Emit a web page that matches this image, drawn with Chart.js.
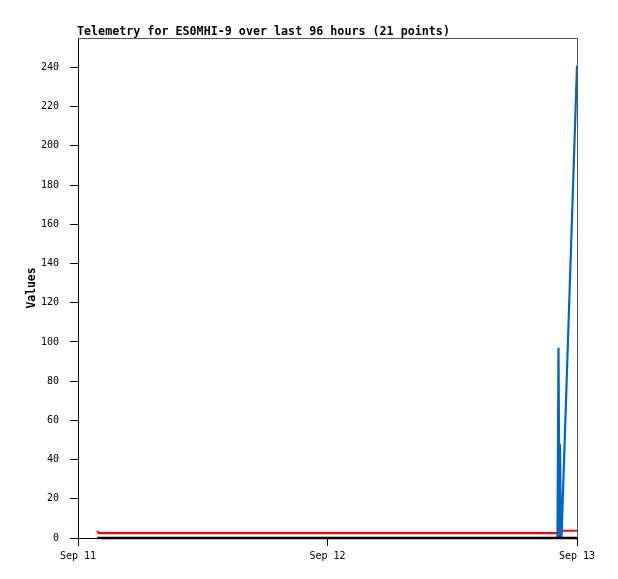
<!DOCTYPE html>
<html>
<head>
<meta charset="utf-8">
<script src="https://cdn.jsdelivr.net/npm/chart.js@4"></script>
<style>
  html, body { margin: 0; padding: 0; background: #ffffff; }
  #wrap { width: 618px; height: 579px; }
</style>
</head>
<body>
<div id="wrap"><canvas id="c" width="618" height="579"></canvas></div>
<script>
// ---- data (hours since Sep 11 00:00) ----
const titleText = 'Telemetry for ES0MHI-9 over last 96 hours (21 points)';
const yAxisTitle = 'Values';
const xTickValues = [0, 24, 48];
const xTickLabels = ['Sep 11', 'Sep 12', 'Sep 13'];

const redHours   = [1.83, 2.0, 46.1, 46.2, 48.0];
const redValues  = [3.5, 2.5, 2.5, 3.7, 3.7];

const blueHours  = [1.83, 46.12, 46.22, 46.32, 46.36, 46.46, 46.51, 48.0];
const blueValues = [0, 0, 97, 0, 48, 0, 0, 241];

const blackHours  = [1.83, 48.0];
const blackValues = [0, 0];

function pts(xs, ys) { return xs.map((x, i) => ({ x: x, y: ys[i] })); }

const MONO = '"DejaVu Sans Mono", "Liberation Mono", monospace';

const framePlugin = {
  id: 'frame',
  afterDraw(chart) {
    const { ctx, chartArea: a } = chart;
    ctx.save();
    ctx.strokeStyle = '#555555';
    ctx.lineWidth = 1;
    ctx.beginPath();
    ctx.moveTo(a.left, a.top + 0.5);
    ctx.lineTo(a.right + 0.5, a.top + 0.5);
    ctx.lineTo(a.right + 0.5, a.bottom);
    ctx.stroke();
    ctx.fillStyle = '#000000';
    ctx.font = 'bold 11.7px ' + MONO;
    ctx.textAlign = 'left';
    ctx.textBaseline = 'alphabetic';
    ctx.fillText(titleText, a.left - 1, a.top - 3);
    ctx.restore();
  }
};

new Chart(document.getElementById('c'), {
  type: 'line',
  data: {
    datasets: [
      { label: 'red', data: pts(redHours, redValues), borderColor: '#ff0000', borderWidth: 2.2,
        pointRadius: 0, tension: 0, clip: false, order: 3 },
      { label: 'blue', data: pts(blueHours, blueValues), borderColor: '#0066cc', borderWidth: 2.2,
        pointRadius: 0, tension: 0, clip: false, order: 2 },
      { label: 'black', data: pts(blackHours, blackValues), borderColor: '#000000', borderWidth: 2.6,
        pointRadius: 0, tension: 0, clip: false, order: 1 }
    ]
  },
  options: {
    responsive: false,
    animation: false,
    events: [],
    layout: { padding: { left: 0, top: 38, right: 41, bottom: 0 } },
    plugins: { legend: { display: false }, tooltip: { enabled: false }, title: { display: false } },
    scales: {
      x: {
        type: 'linear', min: 0, max: 48,
        afterBuildTicks(s) { s.ticks = xTickValues.map(v => ({ value: v })); },
        afterFit(s) { s.height = 41; },
        border: { color: '#000000', width: 1 },
        grid: { drawOnChartArea: false, color: '#000000', tickLength: 8, tickWidth: 1 },
        ticks: {
          color: '#000000', font: { family: MONO, size: 10 }, padding: 4, maxRotation: 0,
          callback(v) { const i = xTickValues.indexOf(v); return i >= 0 ? xTickLabels[i] : ''; }
        }
      },
      y: {
        type: 'linear', min: 0, max: 255,
        afterBuildTicks(s) {
          const t = [];
          for (let v = 0; v <= 240; v += 20) t.push({ value: v });
          s.ticks = t;
        },
        afterFit(s) { s.width = 78; },
        border: { color: '#000000', width: 1 },
        grid: { drawOnChartArea: false, color: '#000000', tickLength: 8, tickWidth: 1 },
        title: { display: true, text: yAxisTitle, color: '#000000',
                 font: { family: MONO, size: 11.4, weight: 'bold' }, padding: { top: 25, bottom: 0 } },
        ticks: { color: '#000000', font: { family: MONO, size: 10 }, padding: 11 }
      }
    }
  },
  plugins: [framePlugin]
});
</script>
</body>
</html>
